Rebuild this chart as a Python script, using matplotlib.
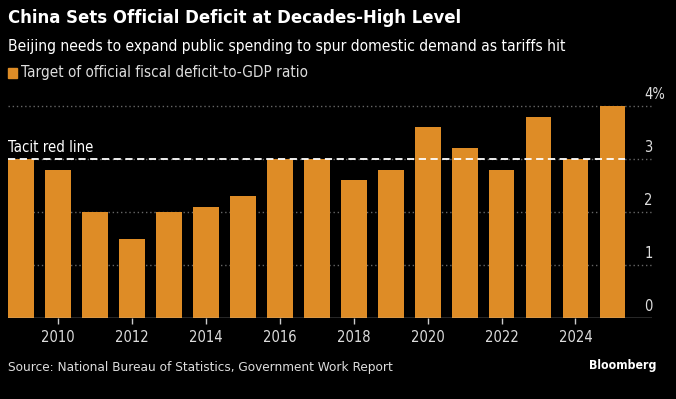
import matplotlib.pyplot as plt
from matplotlib import font_manager
from matplotlib.patches import Rectangle

years = list(range(2009, 2026))
deficit = [3.0, 2.8, 2.0, 1.5, 2.0, 2.1, 2.3, 3.0, 3.0, 2.6, 2.8, 3.6, 3.2, 2.8, 3.8, 3.0, 4.0]
xticks = [2010, 2012, 2014, 2016, 2018, 2020, 2022, 2024]
yticks = [0, 1, 2, 3, 4]
ytick_labels = ['0', '1', '2', '3', '4%']
red_line = 3.0

bar_color = '#de8c26'

# the original uses a condensed face; take one if installed
condensed = ['condensed', 'semi-condensed', 'extra-condensed', 'ultra-condensed']
family, stretch = 'Liberation Sans', 'normal'
for f in font_manager.fontManager.ttflist:
    if f.name in ('DejaVu Sans', 'Noto Sans', 'Open Sans', 'Roboto') and f.stretch in condensed:
        family, stretch = f.name, f.stretch
        break
    if f.name in ('Liberation Sans Narrow', 'Roboto Condensed', 'Open Sans Condensed'):
        family = f.name
        break
plt.rcParams['font.family'] = [family, 'DejaVu Sans']
plt.rcParams['font.stretch'] = stretch

W, H = 676, 399
fig = plt.figure(figsize=(W / 100, H / 100), dpi=100, facecolor='black')
ax = fig.add_axes([8 / W, 1 - 318 / H, (652 - 8) / W, (318 - 96) / H])
ax.set_facecolor('black')

ax.bar(years, deficit, width=0.7, color=bar_color, zorder=2)
ax.set_xlim(2008.65, 2026.07)
ax.set_ylim(0, (318 - 96) / 53)

# dotted gridlines
for v in yticks[1:]:
    ax.axhline(v, color='#666666', lw=1, ls=(0, (1, 2)), zorder=1)
ax.axhline(0, color='#cccccc', lw=1, zorder=3)

# tacit red line
ax.plot([2008.65, years[-1] + 0.35], [red_line, red_line], color='white',
        lw=1.3, ls=(0, (4, 2.5)), zorder=4)
t_red = ax.annotate('Tacit red line', (2008.65, red_line), xytext=(0, 3),
                    textcoords='offset points', color='white', fontsize=10.5,
                    ha='left', va='bottom')

for s in ax.spines.values():
    s.set_visible(False)
ax.set_yticks([])
ax.set_xticks(xticks)
ax.set_xticklabels([str(x) for x in xticks])
ax.tick_params(axis='x', colors='#cccccc', labelcolor='#dddddd', length=4,
               width=1, labelsize=10.5, pad=5)

for v, lab in zip(yticks, ytick_labels):
    ax.annotate(lab, (1.0, v), xycoords=('axes fraction', 'data'),
                xytext=(-5.5, 3), textcoords='offset points', color='#dddddd',
                fontsize=10.5, ha='left', va='bottom')

title = fig.text(8 / W, 1 - 18 / H, 'China Sets Official Deficit at Decades-High Level',
                 color='white', fontsize=16, fontweight='bold', va='center')
sub = fig.text(8 / W, 1 - 46 / H,
               'Beijing needs to expand public spending to spur domestic demand as tariffs hit',
               color='white', fontsize=13, va='center')
fig.patches.append(Rectangle((8 / W, 1 - 78 / H), 9 / W, 10 / H,
                             transform=fig.transFigure, color=bar_color))
leg = fig.text(21 / W, 1 - 73 / H, 'Target of official fiscal deficit-to-GDP ratio',
               color='#dddddd', fontsize=12, va='center')
src = fig.text(8 / W, 1 - 367 / H,
               'Source: National Bureau of Statistics, Government Work Report',
               color='#dddddd', fontsize=12, va='center')
brand = fig.text(656 / W, 1 - 366 / H, 'Bloomberg', color='white', fontsize=12,
                 fontweight='bold', va='center', ha='right')

# scale text so its width follows the original, capped so it does not grow too tall
renderer = fig.canvas.get_renderer()
for t, width_px, max_size in [(title, 454, 16), (sub, 555, 13), (leg, 287, 12),
                              (src, 384, 12), (brand, 67, 12), (t_red, 86, 11)]:
    w = t.get_window_extent(renderer).width
    t.set_fontsize(min(max_size, t.get_fontsize() * width_px / w))

fig.savefig('out.png', dpi=100, facecolor='black')
